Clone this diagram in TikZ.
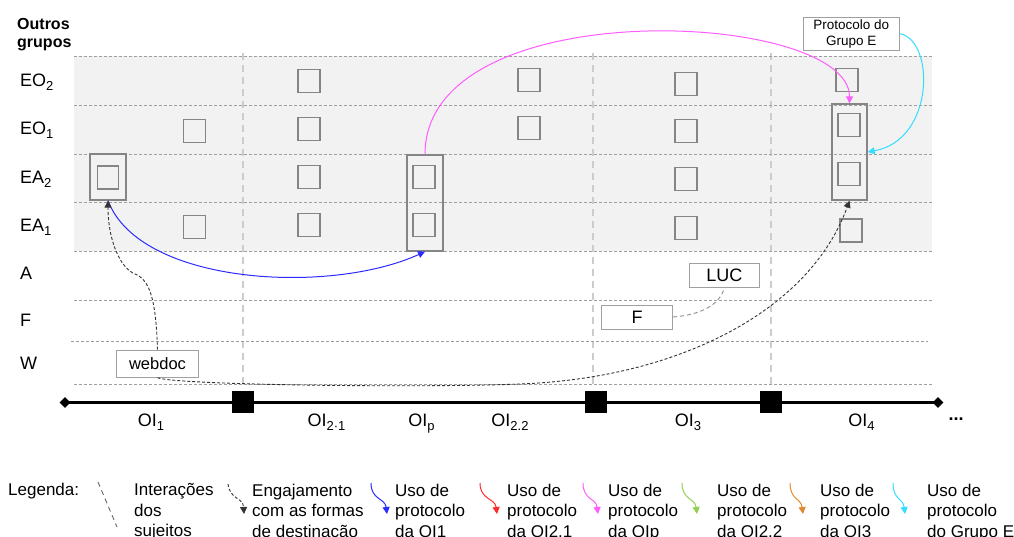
\documentclass[tikz,border=0pt]{standalone}
\usepackage{fontspec}
\setmainfont{Liberation Sans}
\usetikzlibrary{arrows.meta,shapes.geometric}
\definecolor{gridc}{HTML}{9E9E9E}
\definecolor{vgrid}{HTML}{CCCCCC}
\definecolor{band}{HTML}{F2F2F2}
\definecolor{sqc}{HTML}{858585}
\definecolor{boxc}{HTML}{A0A0A0}
\definecolor{engc}{HTML}{333333}
\definecolor{interc}{HTML}{8C8C8C}
\definecolor{cblue}{HTML}{2B2BFF}
\definecolor{cred}{HTML}{FF2A2A}
\definecolor{cmag}{HTML}{FF5CFF}
\definecolor{cgreen}{HTML}{92D050}
\definecolor{corange}{HTML}{E08A2E}
\definecolor{ccyan}{HTML}{33DDFF}
\newcommand\mysub[1]{\raisebox{-4pt}{\fontsize{13}{13}\selectfont #1}}
\begin{document}
\begin{tikzpicture}[x=1pt,y=-1pt,
  sq/.style={draw=sqc,line width=1.3pt,minimum width=22pt,minimum height=23pt,inner sep=0pt},
  grp/.style={draw=sqc,line width=1.3pt,inner sep=0pt},
  tbox/.style={draw=boxc,line width=1pt,fill=white,inner sep=0pt,align=center},
  rowlab/.style={anchor=base west,inner sep=0pt,font=\fontsize{18}{20}\selectfont},
  oilab/.style={anchor=base,inner sep=0pt,font=\fontsize{18}{20}\selectfont},
  legtxt/.style={anchor=north west,inner sep=0pt,align=left,font=\fontsize{17}{20.5}\selectfont},
  hgrid/.style={draw=gridc,line width=0.9pt,dash pattern=on 3pt off 2pt},
  vgridl/.style={draw=vgrid,line width=1.3pt,dash pattern=on 7pt off 5pt},
  arrowend/.style={-{Triangle[length=7pt,width=7pt]}},
  engage/.style={draw=engc,line width=0.9pt,dash pattern=on 3pt off 2pt,arrowend},
  inter/.style={draw=interc,line width=0.9pt,dash pattern=on 4pt off 3pt},
  proto/.style={line width=1pt,arrowend},
  milestone/.style={fill=black,minimum size=22pt,inner sep=0pt},
  endmark/.style={diamond,fill=black,minimum size=11pt,inner sep=0pt}
]
\useasboundingbox (0,0) rectangle (1014,537);

% background band and grid
\fill[band] (74,56) rectangle (932,251);
\foreach \xx in {243,593,771} \draw[vgridl] (\xx,53) -- (\xx,384);
\foreach \yy in {56,105,154,202,251,300,384} \draw[hgrid] (74,\yy) -- (932,\yy);
\draw[hgrid] (71,341) -- (928,341);

% header and row labels
\node[anchor=north west,inner sep=0pt,align=left,font=\fontsize{16}{18}\selectfont\bfseries] (hdr) at (17,18) {Outros\\grupos};
\node[rowlab] (rEO2) at (20,86.5) {EO\mysub{2}};
\node[rowlab] (rEO1) at (20,134.5) {EO\mysub{1}};
\node[rowlab] (rEA2) at (20,183.5) {EA\mysub{2}};
\node[rowlab] (rEA1) at (20,231.5) {EA\mysub{1}};
\node[rowlab] (rA) at (20,279.5) {A};
\node[rowlab] (rF) at (20,326.5) {F};
\node[rowlab] (rW) at (20,369.5) {W};

% squares
\node[sq] (q1) at (194.5,131) {};
\node[sq] (q2) at (194.5,227) {};
\node[sq,minimum width=21pt] (q3) at (108,177.5) {};
\node[sq] (q4) at (309,81) {};
\node[sq] (q5) at (309,128.7) {};
\node[sq] (q6) at (309,177) {};
\node[sq] (q7) at (309,225) {};
\node[sq] (q8) at (424,177) {};
\node[sq] (q9) at (424,225) {};
\node[sq] (q10) at (529,80) {};
\node[sq] (q11) at (529,128) {};
\node[sq] (q12) at (686,84) {};
\node[sq] (q13) at (686,131) {};
\node[sq] (q14) at (686,179) {};
\node[sq] (q15) at (686,228) {};
\node[sq] (q16) at (847,80) {};
\node[sq] (q17) at (849,125) {};
\node[sq] (q18) at (849,174) {};
\node[sq] (q19) at (851,230.5) {};

% grouping boxes
\node[grp,minimum width=36pt,minimum height=46pt] (ea2box) at (108,177) {};
\node[grp,minimum width=36pt,minimum height=96pt] (opbox) at (425,203) {};
\node[grp,minimum width=35pt,minimum height=96pt] (o4box) at (849.5,152) {};

% text boxes
\node[tbox,minimum width=96pt,minimum height=33pt,font=\fontsize{13.5}{16}\selectfont] (prot) at (851.3,33.7) {Protocolo do\\Grupo E};
\node[tbox,minimum width=82pt,minimum height=27pt,font=\fontsize{16.5}{18}\selectfont] (webdoc) at (157.5,363.7) {webdoc};
\node[tbox,minimum width=70pt,minimum height=24pt,font=\fontsize{18}{20}\selectfont] (luc) at (724.3,275.2) {LUC};
\node[tbox,minimum width=71pt,minimum height=24pt,font=\fontsize{18}{20}\selectfont] (fbox) at (637,317) {F};

% timeline
\node[endmark] (tl0) at (65,402.5) {};
\node[endmark] (tl1) at (938,402.5) {};
\draw[line width=3pt] (tl0.center) -- (tl1.center);
\node[milestone] (m1) at (243,402) {};
\node[milestone] (m2) at (596,402) {};
\node[milestone] (m3) at (771,402) {};
\node[anchor=base,inner sep=0pt,font=\fontsize{18}{20}\selectfont\bfseries] (dots) at (956,420) {...};

% OI labels
\node[oilab] (oi1) at (151,426.5) {OI\mysub{1}};
\node[oilab] (oi21) at (326.5,426.5) {OI\mysub{2·1}};
\node[oilab] (oip) at (421.5,426.5) {OI\mysub{p}};
\node[oilab] (oi22) at (510,426.5) {OI\mysub{2.2}};
\node[oilab] (oi3) at (688,426.5) {OI\mysub{3}};
\node[oilab] (oi4) at (861.5,426.5) {OI\mysub{4}};

% connectors
\draw[proto,cblue] (ea2box.south) .. controls (140,285) and (330,295) .. (opbox.south);
\draw[proto,cmag] (opbox.north) .. controls (425,-10) and (849.5,10) .. (o4box.north);
\draw[proto,ccyan] (prot.east) .. controls (935,40) and (935,140) .. (o4box.east);
\draw[engage] (webdoc.north) .. controls (156,300) and (150,280) .. (135,274) .. controls (120,268) and (108,240) .. (ea2box.south);
\draw[engage] (webdoc.south) .. controls (175,385) and (420,388) .. (520,384) .. controls (680,378) and (810,310) .. (o4box.south);
\draw[inter] (fbox.east) .. controls (700,315) and (720,305) .. (luc.south);

% legend
\node[anchor=base west,inner sep=0pt,font=\fontsize{17}{20}\selectfont] (leg0) at (8,495.5) {Legenda:};
\coordinate (li0) at (98,482); \coordinate (li1) at (117,527);
\draw[inter,draw=gray!80!black,dash pattern=on 5pt off 4pt] (li0) -- (li1);
\node[legtxt] (leg1) at (134,483.5) {Interações\\dos\\sujeitos};
\coordinate (le0) at (228,484); \coordinate (le1) at (244,514);
\draw[engage] (le0) .. controls (230,500) and (243,497) .. (le1);
\node[legtxt] (leg2) at (252,483.5) {Engajamento\\com as formas\\de destinação};
\coordinate (lb0) at (371,483); \coordinate (lb1) at (387,514);
\draw[proto,cblue] (lb0) .. controls (371,500) and (385,498) .. (lb1);
\node[legtxt] (leg3) at (395,483.5) {Uso de\\protocolo\\da OI1};
\coordinate (lr0) at (480,483); \coordinate (lr1) at (497,514);
\draw[proto,cred] (lr0) .. controls (480,500) and (495,498) .. (lr1);
\node[legtxt] (leg4) at (507,483.5) {Uso de\\protocolo\\da OI2.1};
\coordinate (lm0) at (583,483); \coordinate (lm1) at (598,514);
\draw[proto,cmag] (lm0) .. controls (583,500) and (596,498) .. (lm1);
\node[legtxt] (leg5) at (608,483.5) {Uso de\\protocolo\\da OIp};
\coordinate (lg0) at (682,483); \coordinate (lg1) at (697,514);
\draw[proto,cgreen] (lg0) .. controls (682,500) and (695,498) .. (lg1);
\node[legtxt] (leg6) at (717,483.5) {Uso de\\protocolo\\da OI2.2};
\coordinate (lo0) at (790,483); \coordinate (lo1) at (803,514);
\draw[proto,corange] (lo0) .. controls (790,500) and (801,498) .. (lo1);
\node[legtxt] (leg7) at (820,483.5) {Uso de\\protocolo\\da OI3};
\coordinate (lc0) at (893,483); \coordinate (lc1) at (905,514);
\draw[proto,ccyan] (lc0) .. controls (893,500) and (903,498) .. (lc1);
\node[legtxt] (leg8) at (927,483.5) {Uso de\\protocolo\\do Grupo E};
\end{tikzpicture}
\end{document}
